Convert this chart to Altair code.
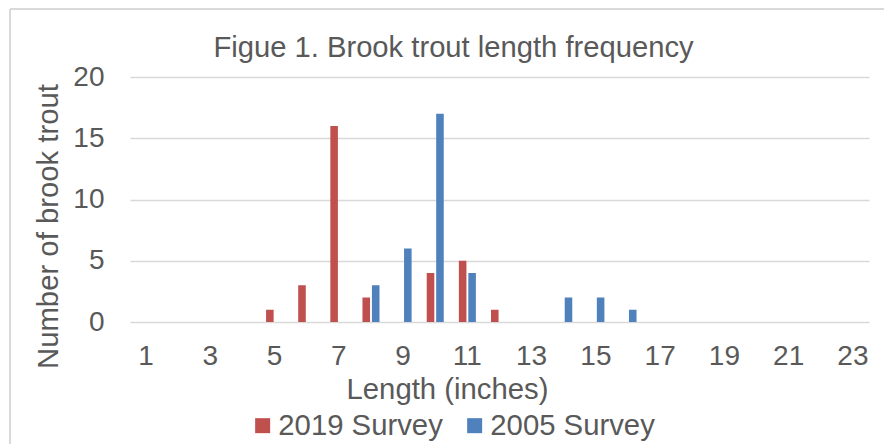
import altair as alt
import pandas as pd

lengths = list(range(1, 24))
survey_2019 = [0, 0, 0, 0, 1, 3, 16, 2, 0, 4, 5, 1, 0, 0, 0, 0, 0, 0, 0, 0, 0, 0, 0]
survey_2005 = [0, 0, 0, 0, 0, 0, 0, 3, 6, 17, 4, 0, 0, 2, 2, 1, 0, 0, 0, 0, 0, 0, 0]
series_names = ["2019 Survey", "2005 Survey"]
series_colors = ["#C0504D", "#4F81BD"]
y_ticks = [0, 5, 10, 15, 20]

rows = []
for name, vals in zip(series_names, [survey_2019, survey_2005]):
    for l, v in zip(lengths, vals):
        rows.append({"Length": l, "Count": v, "Series": name})
df = pd.DataFrame(rows)

FONT = "Liberation Sans"
TXT = "#595959"
GRID = "#D9D9D9"

bars = alt.Chart(df).mark_bar().encode(
    x=alt.X("Length:O", scale=alt.Scale(domain=lengths, paddingInner=0.47, paddingOuter=0.235),
            axis=alt.Axis(title="Length (inches)", labelAngle=0,
                          labelExpr="datum.value % 2 == 1 ? datum.label : ''",
                          ticks=False, domain=False, labelPadding=20, titlePadding=5,
                          labelFontSize=28, titleFontSize=29.3, titleX=317)),
    xOffset=alt.XOffset("Series:N", sort=series_names,
                        scale=alt.Scale(paddingInner=0.2, paddingOuter=0)),
    y=alt.Y("Count:Q", scale=alt.Scale(domain=[0, 20], nice=False),
            axis=alt.Axis(title="Number of brook trout", values=y_ticks, ticks=False, domain=False,
                          grid=True, gridColor=GRID, gridWidth=1.5, labelPadding=26,
                          labelFontSize=28, titleFontSize=29.3, titleX=-67, titleY=149)),
    color=alt.Color("Series:N", sort=series_names,
                    scale=alt.Scale(domain=series_names, range=series_colors),
                    legend=alt.Legend(title=None, orient="none", direction="horizontal",
                                      legendX=118, legendY=334, symbolType="square", symbolSize=225,
                                      labelFontSize=29.3, labelLimit=0, symbolStrokeWidth=0,
                                      columnPadding=17, labelOffset=1)),
)

border_left = alt.Chart(df).mark_rule(color=GRID, strokeWidth=1.5).encode(
    x=alt.value(-120), y=alt.value(-68), y2=alt.value(400))
border_top = alt.Chart(df).mark_rule(color=GRID, strokeWidth=1.5).encode(
    x=alt.value(-120), x2=alt.value(780), y=alt.value(-68))

chart = alt.layer(border_left, border_top, bars).properties(
    width=739, height=245,
    autosize=alt.AutoSizeParams(type="none"),
    padding={"left": 122, "top": 69, "right": 15, "bottom": 122},
    title=alt.Title("Figue 1. Brook trout length frequency", fontSize=29.2, font=FONT,
                    color=TXT, fontWeight="normal", dx=-46, dy=69, offset=14),
).configure_view(stroke=None).configure_axis(
    labelFont=FONT, titleFont=FONT, labelColor=TXT, titleColor=TXT, titleFontWeight="normal"
).configure_legend(labelFont=FONT, labelColor=TXT)

chart.save("out.html", embed_options={"renderer": "svg", "actions": False})
